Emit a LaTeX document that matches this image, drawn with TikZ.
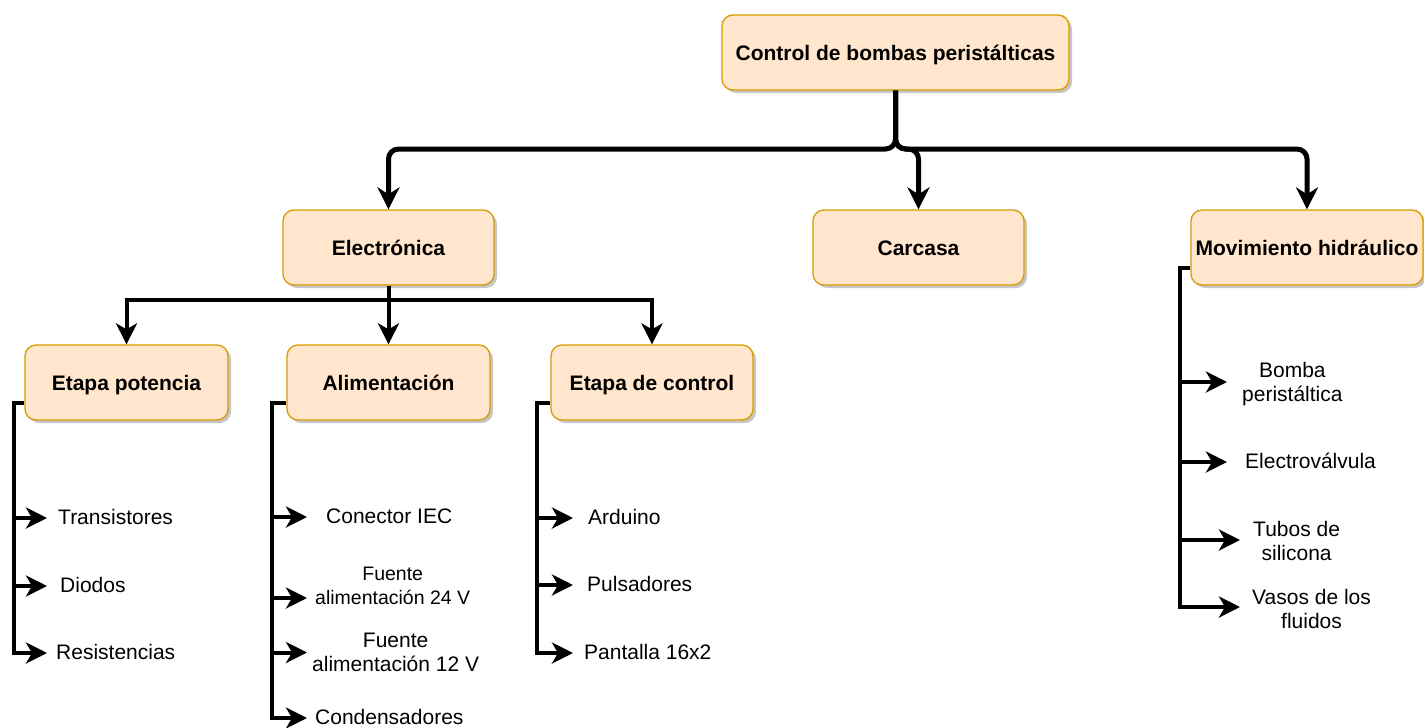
\documentclass[tikz,border=0pt]{standalone}
\usepackage{fontspec}
\setmainfont{Liberation Sans}
\usetikzlibrary{arrows.meta,shadows}
\definecolor{boxfill}{HTML}{FFE6CC}
\definecolor{boxdraw}{HTML}{D79B00}
\begin{document}
\begin{tikzpicture}[x=1pt,y=-1pt,
 box/.style={draw=boxdraw, fill=boxfill, line width=1.3pt, rounded corners=11pt, minimum height=75pt, inner sep=0pt, text height=16pt, text depth=1pt, font=\fontsize{21}{24}\selectfont\bfseries, drop shadow={shadow xshift=3pt, shadow yshift=-3pt, fill=black, opacity=0.22}},
 leaf/.style={inner sep=0pt, anchor=west, align=center, font=\fontsize{21}{24}\selectfont},
 leafone/.style={inner sep=0pt, anchor=west, text height=16pt, text depth=1pt, font=\fontsize{21}{24}\selectfont},
 topconn/.style={line width=5pt, rounded corners=10pt, -{Stealth[length=22pt,width=22pt,inset=7pt]}},
 conn/.style={line width=4pt, -{Stealth[length=21pt,width=21pt,inset=6pt]}},
]
\useasboundingbox (0,0) rectangle (1424,728);

% boxes
\node[box, minimum width=347pt] (top) at (895.5,52.5) {Control de bombas peristálticas};
\node[box, minimum width=211pt] (elec) at (388.5,247.5) {Electrónica};
\node[box, minimum width=211pt] (carc) at (918.5,247.5) {Carcasa};
\node[box, minimum width=232pt] (mov) at (1307,247.5) {Movimiento hidráulico};
\node[box, minimum width=203pt] (pot) at (126.5,382.5) {Etapa potencia};
\node[box, minimum width=203pt] (alim) at (388.5,382.5) {Alimentación};
\node[box, minimum width=202pt] (ctrl) at (652,382.5) {Etapa de control};

% junctions
\coordinate (J) at (895.5,149);
\coordinate (E) at (388.5,300);

\draw[topconn] (top.south) -- (J) -| (elec.north);
\draw[topconn] (top.south) -- (J) -| (carc.north);
\draw[topconn] (top.south) -- (J) -| (mov.north);

\draw[conn] (elec.south) -- (E) -| (pot.north);
\draw[conn] (elec.south) -- (alim.north);
\draw[conn] (elec.south) -- (E) -| (ctrl.north);

% leaves
\node[leafone] (tr) at (58,517) {Transistores};
\node[leafone] (di) at (60,585) {Diodos};
\node[leafone] (re) at (56,652) {Resistencias};
\node[leafone] (iec) at (326,516) {Conector IEC};
\node[leaf, font=\fontsize{19.5}{24}\selectfont] (f24) at (315,585.5) {Fuente\\alimentación 24 V};
\node[leaf] (f12) at (312,652.5) {Fuente\\alimentación 12 V};
\node[leafone] (con) at (315,717) {Condensadores};
\node[leafone] (ard) at (588,517) {Arduino};
\node[leafone] (pul) at (587,584) {Pulsadores};
\node[leafone] (pan) at (584,652) {Pantalla 16x2};
\node[leaf] (bom) at (1242,384) {Bomba\\peristáltica};
\node[leafone] (ev) at (1245,461) {Electroválvula};
\node[leaf] (tub) at (1253,541) {Tubos de\\silicona};
\node[leaf] (vas) at (1252,609) {Vasos de los\\fluidos};

% side connectors
\draw[conn, shorten >=11pt] ([yshift=-20pt]pot.west) -- ++(-10,0) |- ([yshift=-1pt]tr.west);
\draw[conn, shorten >=13pt] ([yshift=-20pt]pot.west) -- ++(-10,0) |- ([yshift=-1pt]di.west);
\draw[conn, shorten >=9pt] ([yshift=-20pt]pot.west) -- ++(-10,0) |- ([yshift=-1pt]re.west);

\draw[conn, shorten >=19pt] ([yshift=-20pt]alim.west) -- ++(-14,0) |- ([yshift=-1pt]iec.west);
\draw[conn, shorten >=8pt] ([yshift=-20pt]alim.west) -- ++(-14,0) |- ([yshift=-12.5pt]f24.west);
\draw[conn, shorten >=5pt] ([yshift=-20pt]alim.west) -- ++(-14,0) |- (f12.west);
\draw[conn, shorten >=8pt] ([yshift=-20pt]alim.west) -- ++(-14,0) |- ([yshift=-1pt]con.west);

\draw[conn, shorten >=15pt] ([yshift=-20pt]ctrl.west) -- ++(-13,0) |- ([yshift=-1pt]ard.west);
\draw[conn, shorten >=14pt] ([yshift=-20pt]ctrl.west) -- ++(-13,0) |- ([yshift=-1pt]pul.west);
\draw[conn, shorten >=11pt] ([yshift=-20pt]ctrl.west) -- ++(-13,0) |- ([yshift=-1pt]pan.west);

\draw[conn, shorten >=15pt] ([yshift=-20pt]mov.west) -- ++(-10,0) |- ([yshift=2pt]bom.west);
\draw[conn, shorten >=18pt] ([yshift=-20pt]mov.west) -- ++(-10,0) |- ([yshift=-1pt]ev.west);
\draw[conn, shorten >=13pt] ([yshift=-20pt]mov.west) -- ++(-10,0) |- ([yshift=1pt]tub.west);
\draw[conn, shorten >=12pt] ([yshift=-20pt]mov.west) -- ++(-10,0) |- ([yshift=2pt]vas.west);
\end{tikzpicture}
\end{document}
